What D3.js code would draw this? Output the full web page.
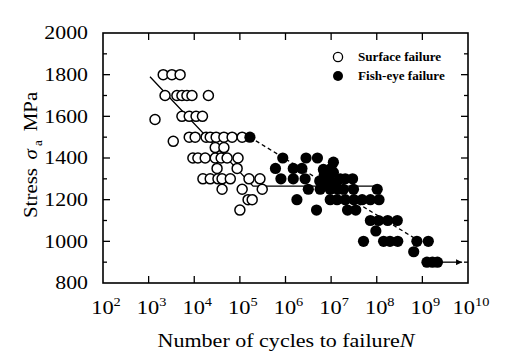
<!DOCTYPE html>
<html><head><meta charset="utf-8">
<script src="https://cdn.jsdelivr.net/npm/d3@7"></script>
<style>body{margin:0;background:#fff}svg{display:block}text{font-family:"Liberation Serif","Times New Roman",serif}</style>
</head><body><svg id="c" width="512" height="359"></svg>
<script>
// log10(N), stress (MPa)
const surfaceLogN = [3.32,3.51,3.69, 3.36,3.62,3.73,3.84,3.95,4.31, 3.14, 3.73,3.89,4.04,4.18,
  3.89,4.02,4.26,4.35,4.48,4.65,4.83,5.05, 3.54, 4.46,4.65, 3.97,4.08,4.24,4.46,4.59,4.72,4.96,
  4.50,4.94, 4.19,4.35,4.52,4.61,4.79,5.20,5.44, 4.61,5.05,5.49, 5.18,5.27, 5.00];
const surfaceStress = [1800,1800,1800, 1700,1700,1700,1700,1700,1700, 1585, 1600,1600,1600,1600,
  1500,1500,1500,1500,1500,1500,1500,1500, 1480, 1450,1450, 1400,1400,1400,1400,1400,1400,1400,
  1350,1350, 1300,1300,1300,1300,1300,1300,1300, 1250,1250,1250, 1200,1200, 1150];
const fishLogN = [5.22, 5.94,6.45,6.70,7.05, 5.78,6.17,6.36,6.83,7.00,
  6.85,6.95,7.05,7.10,6.90,7.15,7.20,6.75,
  5.90,6.17,6.43,7.31,7.47, 6.50,6.76,6.98,7.27,7.49,8.01,
  6.25,6.98,7.13,7.31,7.50,7.68,7.86,8.05, 6.68,7.36,7.54,
  7.86,8.04,8.24,8.45, 7.98, 7.71,8.15,8.29,8.46,8.88,9.13, 8.81, 9.10,9.22,9.33];
const fishStress = [1500, 1400,1400,1400,1380, 1350,1350,1350,1345,1350,
  1320,1300,1330,1280,1270,1250,1300,1290,
  1300,1300,1300,1300,1300, 1250,1250,1250,1250,1250,1250,
  1200,1200,1200,1200,1200,1200,1200,1200, 1150,1150,1150,
  1100,1100,1100,1100, 1050, 1000,1000,1000,1000,1000,1000, 950, 900,900,900];
const solidLine = [[3.03,1790],[5.29,1265],[8.0,1265]];
const dashedLine = [[5.22,1500],[8.85,1012]];
const arrowLine = [[9.40,900],[9.87,900]];
const xExps = [2,3,4,5,6,7,8,9,10];
const yTicks = [800,1000,1200,1400,1600,1800,2000];
const yMinor = [900,1100,1300,1500,1700,1900];
const legendLabels = ["Surface failure","Fish-eye failure"];

const svg = d3.select("#c");
const L=103,R=468,T=33,B=283;
const x = d3.scaleLog().domain([1e2,1e10]).range([L,R]);
const y = d3.scaleLinear().domain([800,2000]).range([B,T]);
const px = e => x(Math.pow(10,e));
const sx = (cx,k) => `translate(${cx},0) scale(${k},1) translate(${-cx},0)`;

svg.append("defs").append("marker").attr("id","ah").attr("viewBox","0 0 10 10")
  .attr("refX",10).attr("refY",5).attr("markerWidth",12).attr("markerHeight",6)
  .attr("markerUnits","userSpaceOnUse").attr("orient","auto")
  .append("path").attr("d","M0,0L10,5L0,10Z").attr("fill","#000");

// frame
svg.append("rect").attr("x",L).attr("y",T).attr("width",R-L).attr("height",B-T)
  .attr("fill","none").attr("stroke","#000").attr("stroke-width",1.6);

// ticks
const g = svg.append("g").attr("stroke","#000").attr("stroke-width",1.3);
xExps.slice(1,-1).forEach(e=>{
  g.append("line").attr("x1",px(e)).attr("x2",px(e)).attr("y1",B).attr("y2",B-7);
  g.append("line").attr("x1",px(e)).attr("x2",px(e)).attr("y1",T).attr("y2",T+7);
});
yTicks.slice(1,-1).forEach(v=>{
  g.append("line").attr("x1",L).attr("x2",L+7).attr("y1",y(v)).attr("y2",y(v));
  g.append("line").attr("x1",R).attr("x2",R-7).attr("y1",y(v)).attr("y2",y(v));
});
yMinor.forEach(v=>{
  g.append("line").attr("x1",L).attr("x2",L+4).attr("y1",y(v)).attr("y2",y(v));
  g.append("line").attr("x1",R).attr("x2",R-4).attr("y1",y(v)).attr("y2",y(v));
});

// tick labels
yTicks.forEach(v=>{
  svg.append("text").attr("x",88).attr("y",y(v)+6.5).attr("text-anchor","end")
    .attr("font-size",19).attr("transform",sx(88,1.15)).text(v);
});
xExps.forEach(e=>{
  const cx = px(e)+3;
  const t = svg.append("text").attr("x",cx).attr("y",314).attr("text-anchor","middle")
    .attr("font-size",19.5).attr("transform",sx(cx,1.15));
  t.append("tspan").text("10");
  t.append("tspan").attr("font-size",12.5).attr("dy",-8).text(e);
});

// axis titles
const xt = svg.append("text").attr("x",286).attr("y",347).attr("text-anchor","middle")
  .attr("font-size",19.5).attr("transform",sx(286,1.13));
xt.append("tspan").text("Number of cycles to failure");
xt.append("tspan").attr("font-style","italic").text("N");

const yt = svg.append("text").attr("transform","translate(37,218) rotate(-90) scale(1.1,1)").attr("font-size",19);
yt.append("tspan").text("Stress ");
yt.append("tspan").attr("font-style","italic").attr("dx",3).text("σ");
yt.append("tspan").attr("font-size",12).attr("dy",5).text(" a");
yt.append("tspan").attr("dy",-5).attr("dx",8).text("MPa");

// lines
const line = d3.line().x(d=>px(d[0])).y(d=>y(d[1]));
svg.append("path").attr("d",line(solidLine)).attr("fill","none").attr("stroke","#000").attr("stroke-width",1.3);
svg.append("path").attr("d",line(dashedLine)).attr("fill","none").attr("stroke","#000").attr("stroke-width",1.3).attr("stroke-dasharray","4,3");
svg.append("path").attr("d",line(arrowLine)).attr("fill","none").attr("stroke","#000").attr("stroke-width",1.3).attr("marker-end","url(#ah)");

// points
svg.append("g").selectAll("circle").data(d3.range(surfaceLogN.length)).join("circle")
  .attr("cx",i=>px(surfaceLogN[i])).attr("cy",i=>y(surfaceStress[i])).attr("r",5)
  .attr("fill","#fff").attr("stroke","#000").attr("stroke-width",1.5);
svg.append("g").selectAll("circle").data(d3.range(fishLogN.length)).join("circle")
  .attr("cx",i=>px(fishLogN[i])).attr("cy",i=>y(fishStress[i])).attr("r",5.6)
  .attr("fill","#000");

// legend
const lg = svg.append("g");
lg.append("circle").attr("cx",338).attr("cy",57).attr("r",4.6).attr("fill","#fff").attr("stroke","#000").attr("stroke-width",1.3);
lg.append("circle").attr("cx",338).attr("cy",76).attr("r",5).attr("fill","#000");
legendLabels.forEach((s,i)=>{
  lg.append("text").attr("x",358).attr("y",61+i*19).attr("font-size",12.5).attr("font-weight","bold")
    .attr("transform",sx(358,1.05)).text(s);
});
</script></body></html>
